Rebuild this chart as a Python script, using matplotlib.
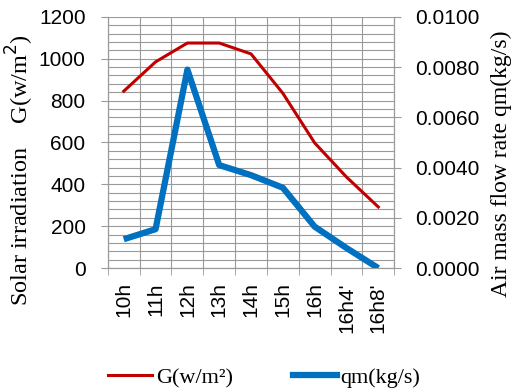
import numpy as np
import matplotlib
matplotlib.use("Agg")
import matplotlib.pyplot as plt
from matplotlib.ticker import MultipleLocator, FormatStrFormatter

# data
hours = ["10h", "11h", "12h", "13h", "14h", "15h", "16h", "16h4'", "16h8'"]
G = [845, 985, 1075, 1075, 1023, 835, 598, 435, 292]
qm = [0.00115, 0.00155, 0.0079, 0.0041, 0.0037, 0.0032, 0.00165, 0.0008, 0.0]

sans = "Liberation Sans"
serif = "Liberation Serif"
grid_c = "#9a9a9a"

fig = plt.figure(figsize=(5.16, 3.92), dpi=100)
ax = fig.add_axes([0.209, 0.316, 0.555, 0.641])
ax2 = ax.twinx()

x = np.arange(len(hours))
ax.plot(x, G, color="#C00000", lw=2.2, zorder=3)
ax2.plot(x, qm, color="#0070C0", lw=4.5, solid_capstyle="butt", zorder=3)

ax.set_xlim(-0.5, len(hours) - 0.5)
ax.set_ylim(0, 1200)
ax2.set_ylim(0, 0.01)

ax.yaxis.set_major_locator(MultipleLocator(200))
ax.yaxis.set_minor_locator(MultipleLocator(40))
ax2.yaxis.set_major_locator(MultipleLocator(0.002))
ax2.yaxis.set_major_formatter(FormatStrFormatter("%.4f"))

ax.set_xticks(x)
ax.set_xticklabels(hours, rotation=90, fontname=sans, fontsize=15)
ax.set_xticks(np.arange(-0.5, len(hours)), minor=True)
ax.tick_params(axis="x", which="major", length=0, pad=10)
ax.tick_params(axis="x", which="minor", length=5, color=grid_c)
ax.tick_params(axis="y", which="major", length=5, color=grid_c, labelsize=15, pad=11)
ax.tick_params(axis="y", which="minor", length=0)
ax2.tick_params(axis="y", length=5, color=grid_c, labelsize=15, pad=10)
for lab in ax.get_yticklabels() + ax2.get_yticklabels():
    lab.set_fontname(sans)

ax.grid(True, which="both", axis="y", color=grid_c, lw=0.8)
ax.grid(True, which="minor", axis="x", color=grid_c, lw=0.8)
ax.set_axisbelow(True)
for a in (ax, ax2):
    for s in a.spines.values():
        s.set_color(grid_c)
    a.spines["top"].set_visible(False)

ax.set_ylabel("Solar irradiation    G(w/m$^2$)", fontname=serif, fontsize=17.5)
ax.yaxis.set_label_coords(-0.252, 0.39)
ax2.set_ylabel("Air mass flow rate qm(kg/s)", fontname=serif, fontsize=17)
ax2.yaxis.set_label_coords(1.336, 0.414)

h1 = plt.Line2D([], [], color="#C00000", lw=2.2)
h2 = plt.Line2D([], [], color="#0070C0", lw=4.5)
fig.legend([h1, h2], ["G(w/m²)", "qm(kg/s)"], loc="center", bbox_to_anchor=(0.512, 0.036),
           ncol=2, frameon=False, handlelength=2.0, handletextpad=0.15, columnspacing=2.7,
           prop={"family": serif, "size": 16})

fig.savefig("out.png", dpi=100)
